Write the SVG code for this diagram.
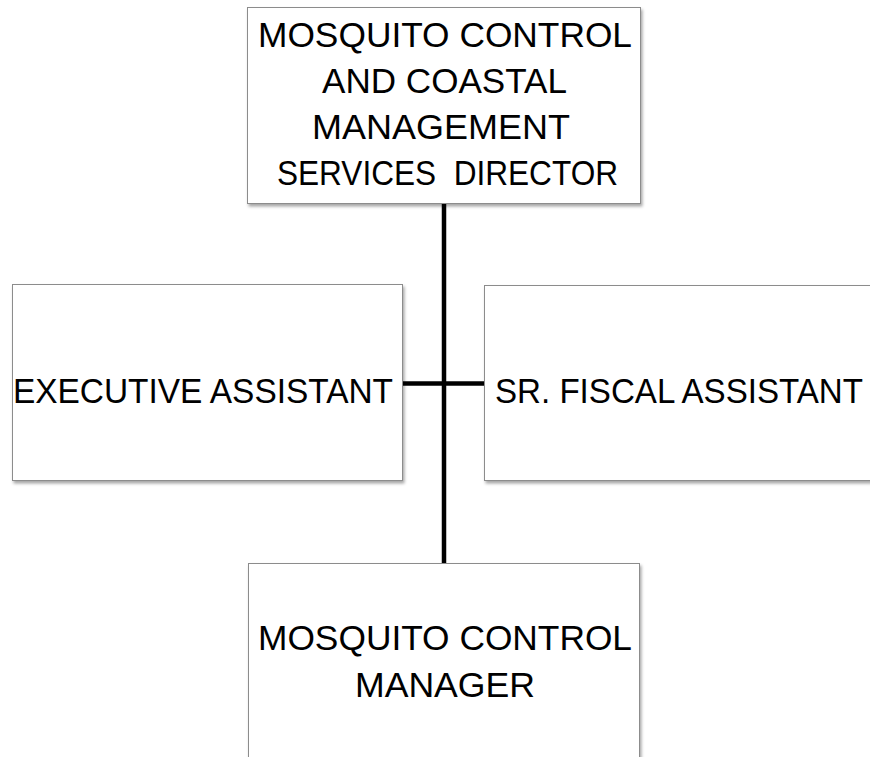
<svg xmlns="http://www.w3.org/2000/svg" width="870" height="757" viewBox="0 0 870 757">
  <defs>
    <filter id="shadow" x="-5%" y="-5%" width="115%" height="115%">
      <feDropShadow dx="1.5" dy="2.5" stdDeviation="1.5" flood-color="#000" flood-opacity="0.35"/>
    </filter>
  </defs>
  <style>
    .box { fill: #ffffff; stroke: #8c8c8c; stroke-width: 1; filter: url(#shadow); }
    .label { font-family: "Liberation Sans", Arial, sans-serif; font-size: 35px; fill: #000000; }
    .mid { text-anchor: middle; }
    .link { stroke: #000000; stroke-width: 4.5; fill: none; }
  </style>
  <rect width="870" height="757" fill="#ffffff"/>

  <g id="connectors">
    <line class="link" x1="444" y1="203" x2="444" y2="563"/>
    <line class="link" x1="403" y1="383.5" x2="484" y2="383.5"/>
  </g>

  <g id="director">
    <rect class="box" x="247.5" y="7.5" width="393" height="196"/>
    <text class="label mid" x="445" y="47" textLength="374" lengthAdjust="spacingAndGlyphs">MOSQUITO CONTROL</text>
    <text class="label mid" x="444.5" y="93" textLength="245" lengthAdjust="spacingAndGlyphs">AND COASTAL</text>
    <text class="label mid" x="441" y="139" textLength="258" lengthAdjust="spacingAndGlyphs">MANAGEMENT</text>
    <text class="label mid" x="447.5" y="185" textLength="341" lengthAdjust="spacingAndGlyphs" xml:space="preserve">SERVICES  DIRECTOR</text>
  </g>

  <g id="executive-assistant">
    <rect class="box" x="12.5" y="284.5" width="390" height="196"/>
    <text class="label" x="13" y="403" textLength="380" lengthAdjust="spacingAndGlyphs">EXECUTIVE ASSISTANT</text>
  </g>

  <g id="fiscal-assistant">
    <rect class="box" x="484.5" y="285.5" width="400" height="195"/>
    <text class="label" x="495" y="403" textLength="368" lengthAdjust="spacingAndGlyphs">SR. FISCAL ASSISTANT</text>
  </g>

  <g id="manager">
    <rect class="box" x="248.5" y="563.5" width="391" height="210"/>
    <text class="label mid" x="445" y="650" textLength="374" lengthAdjust="spacingAndGlyphs">MOSQUITO CONTROL</text>
    <text class="label mid" x="445" y="697" textLength="180" lengthAdjust="spacingAndGlyphs">MANAGER</text>
  </g>
</svg>
